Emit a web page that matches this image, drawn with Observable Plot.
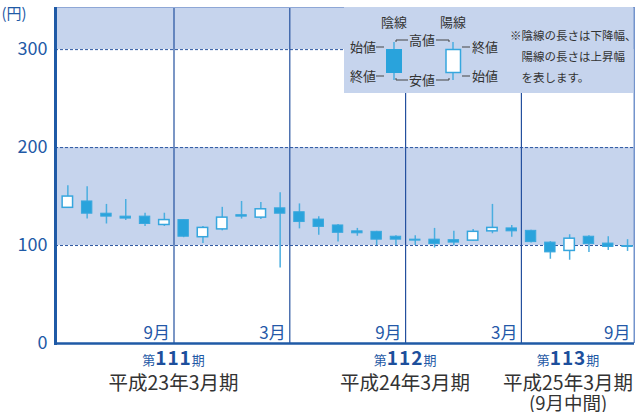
<!DOCTYPE html>
<html><head><meta charset="utf-8">
<script src="https://cdn.jsdelivr.net/npm/d3@7"></script>
<script src="https://cdn.jsdelivr.net/npm/@observablehq/plot@0.6"></script>
<style>
html,body{margin:0;padding:0;background:#fff;}
#chart svg{display:block;}
</style></head><body><div id="chart"></div>
<script>
// ---- data ----
const months = ["2010-04","2010-05","2010-06","2010-07","2010-08","2010-09",
  "2010-10","2010-11","2010-12","2011-01","2011-02","2011-03",
  "2011-04","2011-05","2011-06","2011-07","2011-08","2011-09",
  "2011-10","2011-11","2011-12","2012-01","2012-02","2012-03",
  "2012-04","2012-05","2012-06","2012-07","2012-08","2012-09"];
const open  = [138.5,145,132.5,129.5,129.5,121, 126,108.5,116.5,131,128.5,138, 134,126.5,120.5,114.5,114,109, 106,106,105.5,105,114.5,117.5, 115,103,94.5,109,102,99.5];
const high  = [161,160,142,147,133,133, 126.5,119.5,139,145,144,154, 142.5,129.5,121.5,117.5,114.5,110, 110,117.5,114.5,116.5,142,120.5, 115.5,104,111,110,109,106];
const low   = [138,127,122,125.5,119.5,119.5, 108,102,115,127,126.5,77, 117,110.5,103.5,109.5,100,100, 100,97.5,99.5,104.5,112,108.5, 102.5,86,85,93,95,94];
const close = [150,132.5,129.5,127.5,122,126, 109,118,128.5,129.5,137,132.5, 124,119,113,112.5,106,106, 105,101.5,103,114,118,114.5, 103.5,93,107,101.5,98.5,98.5];
const yTicks = [0,100,200,300];
const shadedBands = [[100,200],[300,343]];
const periodNums = ["111","112","113"];
const periodNames = ["平成23年3月期","平成24年3月期","平成25年3月期"];
const periodNotes = ["","","(9月中間)"];
const periodFirst = ["2010-04","2011-04","2012-04"];
const periodLast  = ["2011-03","2012-03","2012-09"];

// ---- build ----
const data = months.map((m,i)=>({i, m, open:open[i], high:high[i], low:low[i], close:close[i]}));
const up = data.filter(d=>d.close>=d.open);
const down = data.filter(d=>d.close<d.open);
const halfEnds = data.filter(d=>{const mo=+d.m.slice(5); return mo===9||mo===3;});
const xDomain = [-0.64, 29.36];
const dividers = halfEnds.filter(d=>d.i+0.5<xDomain[1]).map(d=>d.i+0.5);
const monthTicks = halfEnds.map(d=>({x: Math.min(d.i+0.5, xDomain[1]), label: (+d.m.slice(5))+"月"}));

const FONT = '"Noto Sans CJK JP","Noto Sans",sans-serif';
const BLUE = "#1f5aa6";
const BAND = "#c6d4ed";
const CANDLE = "#29a3dc";
const WICK = "#4aaee0";
const W = 635, H = 412;
const bw = 0.27;

const chart = Plot.plot({
  width: W, height: H,
  marginLeft: 55, marginRight: 1, marginTop: 7, marginBottom: 69,
  x: {domain: xDomain, axis: null},
  y: {domain: [0, 343], axis: null},
  style: {background: "white", fontFamily: FONT, overflow: "visible"},
  marks: [
    Plot.rect(shadedBands, {x1: xDomain[0], x2: xDomain[1], y1: d=>d[0], y2: d=>d[1], fill: BAND}),
    Plot.ruleY([100,200,300], {stroke: "#2a55a0", strokeWidth: 1, strokeDasharray: "3,2"}),
    Plot.ruleX(dividers, {x: d=>d, y1: 0, y2: 343, stroke: "#24509e", strokeWidth: 1.2}),
    Plot.ruleY([343], {stroke: "#8ea7d6", strokeWidth: 1}),
    Plot.ruleX([xDomain[1]], {y1: 0, y2: 343, stroke: "#7393cc", strokeWidth: 2}),
    Plot.ruleX(data, {x: "i", y1: "low", y2: "high", stroke: WICK, strokeWidth: 1.5}),
    Plot.rect(down, {x1: d=>d.i-bw, x2: d=>d.i+bw, y1: "open", y2: "close", fill: CANDLE, stroke: "#3aa8de", strokeWidth: 1}),
    Plot.rect(up, {x1: d=>d.i-bw, x2: d=>d.i+bw, y1: "open", y2: "close", fill: "white", stroke: "#36a6de", strokeWidth: 1.5}),
    Plot.text(monthTicks, {x: "x", y: 0, text: "label", textAnchor: "end", dx: -4, dy: -10, fontSize: 17, fill: "#2458a8"}),
    Plot.ruleX([xDomain[0]], {y1: -2, y2: 343, stroke: BLUE, strokeWidth: 3}),
    Plot.ruleY([0], {x1: xDomain[0], x2: xDomain[1], stroke: BLUE, strokeWidth: 2.5}),
    Plot.axisY(yTicks, {tickSize: 0, tickPadding: 8, fontSize: 18, color: BLUE, fill: BLUE})
  ]
});
document.getElementById("chart").appendChild(chart);

const svg = d3.select(chart);
const xs = chart.scale("x");

// unit label
svg.append("text").attr("x", 14).attr("y", 19).attr("font-size", 15).attr("fill", BLUE)
  .attr("font-family", FONT).text("(円)");

// period labels
const idx = m => months.indexOf(m);
periodNums.forEach((p,k)=>{
  let cx = xs.apply((idx(periodFirst[k]) + idx(periodLast[k]))/2);
  const g = svg.append("g").attr("font-family", FONT);
  const t1 = g.append("text").attr("text-anchor","middle").attr("y", 365);
  t1.append("tspan").attr("font-size", 13).attr("fill", BLUE).text("第");
  t1.append("tspan").attr("font-size", 19).attr("font-weight", 700).attr("letter-spacing", 1).attr("fill", "#1d4f9c").text(p);
  t1.append("tspan").attr("font-size", 13).attr("fill", BLUE).text("期");
  const t2 = g.append("text").attr("text-anchor","middle").attr("y", 390).attr("font-size", 19.5).attr("fill", "#333").text(periodNames[k]);
  let t3 = null;
  if (periodNotes[k]) t3 = g.append("text").attr("text-anchor","middle").attr("y", 410).attr("font-size", 18.5).attr("fill", "#333").text(periodNotes[k]);
  const half = t2.node().getComputedTextLength()/2;
  cx = Math.min(cx, W - 2 - half);
  [t1,t2,t3].forEach(t=>{ if(t) t.attr("x", cx); });
});

// legend
const lg = svg.append("g").attr("font-family", FONT).attr("fill", "#333");
lg.append("rect").attr("x", 344).attr("y", 7).attr("width", 289).attr("height", 86).attr("fill", BAND);
const tx = (x,y,s,anchor,size)=>lg.append("text").attr("x",x).attr("y",y).attr("text-anchor",anchor||"start").attr("font-size",size||13).text(s);
const ln = (pts)=>lg.append("polyline").attr("points", pts.map(p=>p.join(",")).join(" ")).attr("fill","none").attr("stroke","#444").attr("stroke-width",1);
tx(394, 27, "陰線", "middle");
tx(453, 27, "陽線", "middle");
lg.append("line").attr("x1",394).attr("x2",394).attr("y1",42).attr("y2",80).attr("stroke",WICK).attr("stroke-width",1.5);
lg.append("rect").attr("x",386).attr("y",49).attr("width",16).attr("height",24).attr("fill",CANDLE);
lg.append("line").attr("x1",453).attr("x2",453).attr("y1",42).attr("y2",80).attr("stroke",WICK).attr("stroke-width",1.5);
lg.append("rect").attr("x",446).attr("y",49.5).attr("width",14.5).attr("height",23).attr("fill","white").attr("stroke","#36a6de").attr("stroke-width",1.5);
tx(376, 51.5, "始値", "end");
ln([[376,47],[384,47]]);
tx(376, 80.5, "終値", "end");
ln([[376,76],[384,76]]);
tx(422, 44.5, "高値", "middle");
ln([[396,42],[396,40],[408,40]]);
ln([[436,40],[449,40],[449,42]]);
tx(422, 84.5, "安値", "middle");
ln([[396,78],[396,80],[408,80]]);
ln([[436,80],[449,80],[449,78]]);
ln([[462,47],[470,47]]);
tx(472, 51.5, "終値");
ln([[462,76],[470,76]]);
tx(472, 80.5, "始値");
tx(510, 39.5, "※陰線の長さは下降幅、", "start", 11.5);
tx(521.5, 61, "陽線の長さは上昇幅", "start", 11.5);
tx(521.5, 81.5, "を表します。", "start", 11.5);
</script></body></html>
